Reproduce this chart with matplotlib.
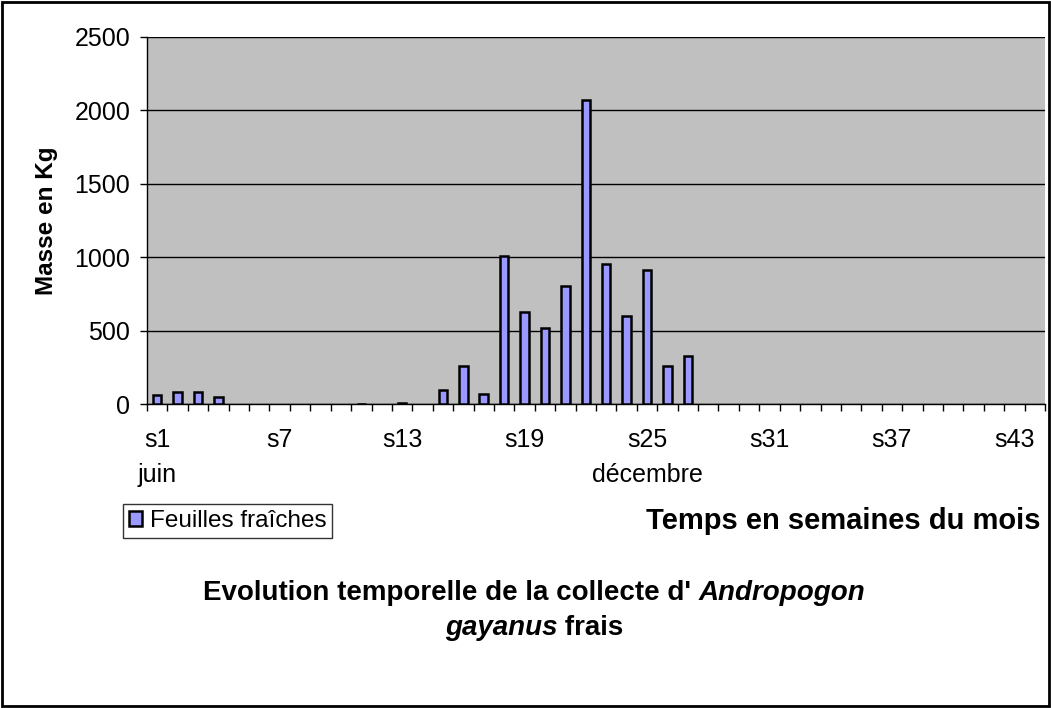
import matplotlib
matplotlib.use("Agg")
from matplotlib import pyplot as plt
from matplotlib.patches import Rectangle
import numpy as np

plt.rcParams['font.family'] = ['Liberation Sans', 'DejaVu Sans']

# weeks s1..s44
weeks = [f"s{i}" for i in range(1, 45)]
masses = [60, 80, 80, 45, 0, 0, 0, 0, 0, 0,
          3, 0, 10, 0, 96, 262, 68, 1005, 630, 518,
          805, 2070, 954, 598, 910, 256, 324, 0, 0, 0,
          0, 0, 0, 0, 0, 0, 0, 0, 0, 0,
          0, 0, 0, 0]
shown_labels = {"s1": "s1\njuin", "s7": "s7", "s13": "s13", "s19": "s19",
                "s25": "s25\ndécembre", "s31": "s31", "s37": "s37", "s43": "s43"}

fig = plt.figure(figsize=(10.51, 7.08), dpi=100)
ax = fig.add_axes([147 / 1051, 1 - 404 / 708, 898 / 1051, 367 / 708])
ax.set_facecolor('#C0C0C0')

x = np.arange(1, len(weeks) + 1)
bars = ax.bar(x, masses, width=0.42, color='#9999FF', edgecolor='black',
              linewidth=1.8, label='Feuilles fraîches', zorder=3)
# empty weeks show no bar at all
for b, m in zip(bars, masses):
    if m == 0:
        b.set_visible(False)

ax.set_xlim(0.5, len(weeks) + 0.5)
ax.set_ylim(0, 2500)
ax.set_yticks(np.arange(0, 2501, 500))
ax.yaxis.grid(True, color='black', linewidth=1)
ax.set_axisbelow(True)

major_pos = [i + 1 for i, w in enumerate(weeks) if w in shown_labels]
ax.set_xticks(major_pos)
ax.set_xticklabels([shown_labels[weeks[p - 1]] for p in major_pos],
                   fontsize=18, linespacing=1.6, va='top')
ax.set_xticks(np.arange(0.5, len(weeks) + 1), minor=True)
ax.tick_params(axis='x', which='major', length=0, pad=17)
ax.tick_params(axis='x', which='minor', length=5, width=1, direction='out')
ax.tick_params(axis='y', length=5, width=1, pad=7, labelsize=18)

for side in ('top', 'right'):
    ax.spines[side].set_visible(False)
for side in ('left', 'bottom'):
    ax.spines[side].set_linewidth(1)

ax.set_ylabel('Masse en Kg', fontsize=17.5, fontweight='bold', labelpad=12)

leg = fig.legend(handles=[bars], labels=['Feuilles fraîches'], loc='center left',
                 bbox_to_anchor=(123 / 1051, 1 - 521 / 708), fontsize=17.5,
                 frameon=True, fancybox=False, edgecolor='black',
                 handlelength=0.55, handleheight=0.55, handletextpad=0.3,
                 borderpad=0.25, borderaxespad=0)
leg.get_frame().set_linewidth(1)

fig.text(1040 / 1051, 1 - 521 / 708, 'Temps en semaines du mois', fontsize=21,
         fontweight='bold', ha='right', va='center')

# title with italic species name, built piece by piece
fig.canvas.draw()
renderer = fig.canvas.get_renderer()
title_lines = [
    [("Evolution temporelle de la collecte d' ", 'normal'), ("Andropogon", 'italic')],
    [("gayanus", 'italic'), (" frais", 'normal')],
]
line_y = [1 - 593 / 708, 1 - 628 / 708]
center_x = 534
for pieces, yy in zip(title_lines, line_y):
    texts = [fig.text(0, yy, s, fontsize=20, fontweight='bold', style=st,
                      va='center', ha='left') for s, st in pieces]
    widths = [t.get_window_extent(renderer).width for t in texts]
    start = center_x - sum(widths) / 2
    for t, w in zip(texts, widths):
        t.set_x(start / 1051)
        start += w

fig.patches.append(Rectangle((0.002, 0.003), 0.996, 0.994, transform=fig.transFigure,
                             fill=False, edgecolor='black', linewidth=2))

fig.savefig('out.png', dpi=100)
